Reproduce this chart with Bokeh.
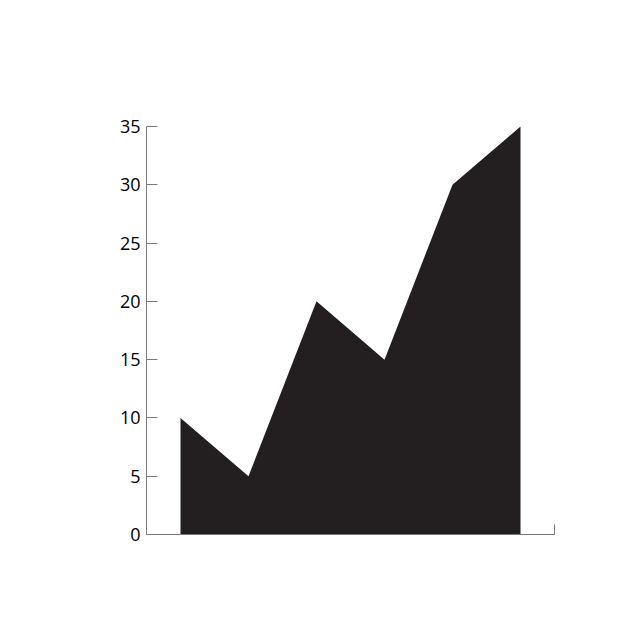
from bokeh.plotting import figure
from bokeh.models import Range1d, FixedTicker, ColumnDataSource
from bokeh.embed import file_html
from bokeh.resources import INLINE

x_vals = [0, 1, 2, 3, 4, 5]
y_vals = [10, 5, 20, 15, 30, 35]
y_ticks = [0, 5, 10, 15, 20, 25, 30, 35]

src = ColumnDataSource(dict(x=x_vals, y=y_vals, y0=[0] * len(x_vals)))

p = figure(output_backend="svg", toolbar_location=None,
           frame_width=408, frame_height=408,
           min_border_left=146, min_border_right=56,
           min_border_top=126, min_border_bottom=76,
           x_range=Range1d(-0.5, 5.5), y_range=Range1d(0, 35))
p.outline_line_color = None
p.xgrid.visible = False
p.ygrid.visible = False
p.background_fill_color = "white"
p.border_fill_color = "white"

p.varea(x="x", y1="y0", y2="y", source=src, fill_color="#231f20")

axis_color = "#7a7a7a"
ya = p.yaxis[0]
ya.ticker = FixedTicker(ticks=y_ticks)
ya.axis_line_color = axis_color
ya.major_tick_line_color = axis_color
ya.major_tick_in = 11
ya.major_tick_out = 0
ya.minor_tick_line_color = None
ya.major_label_text_font = "Open Sans"
ya.major_label_text_font_size = "18px"
ya.major_label_text_color = "#000000"
ya.major_label_standoff = 6

xa = p.xaxis[0]
xa.ticker = FixedTicker(ticks=[5.5])
xa.axis_line_color = axis_color
xa.major_tick_line_color = axis_color
xa.major_tick_in = 10
xa.major_tick_out = 0
xa.minor_tick_line_color = None
xa.major_label_text_alpha = 0
xa.major_label_overrides = {5.5: ""}

open("out.html", "w").write(file_html(p, INLINE))
